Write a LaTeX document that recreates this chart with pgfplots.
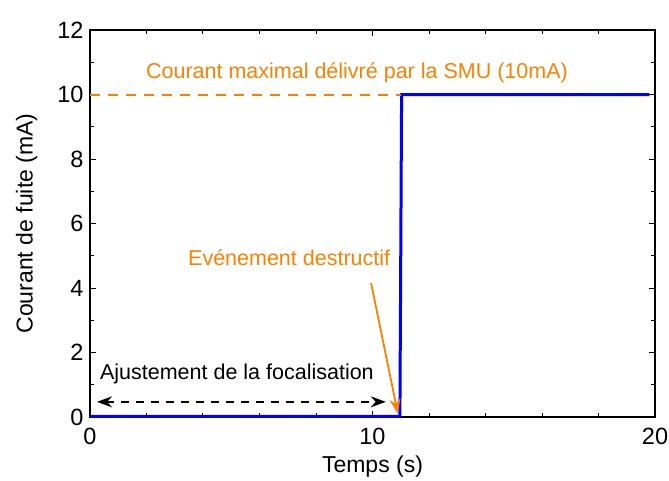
\documentclass[border=0pt]{standalone}
\usepackage{pgfplots}
\pgfplotsset{compat=1.18}
\usetikzlibrary{arrows.meta}
\usepackage{fontspec}
\setmainfont{Liberation Sans}
\definecolor{myorange}{RGB}{255,128,0}
\begin{document}
\begin{tikzpicture}
\useasboundingbox (-90pt,-63pt) rectangle (579pt,417pt);
\begin{axis}[
  at={(0pt,0pt)}, anchor=south west,
  scale only axis, width=565pt, height=387pt,
  xmin=0, xmax=20, ymin=0, ymax=12,
  xtick={0,10,20}, ytick={0,2,...,12},
  minor xtick={2,4,6,8,12,14,16,18},
  minor ytick={1,3,...,11},
  tick align=inside,
  major tick length=6pt, minor tick length=4pt,
  axis line style={line width=1.6pt},
  every tick/.style={black, line width=1pt},
  ticklabel style={font=\fontsize{23.5}{28}\selectfont},
  label style={font=\fontsize{23}{28}\selectfont},
  /pgf/number format/assume math mode=true,
  xlabel={Temps (s)}, ylabel={Courant de fuite (mA)},
  xlabel style={at={(axis description cs:0.5,-0.127)}, anchor=center},
  ylabel style={at={(axis description cs:-0.112,0.5)}, anchor=center},
  xticklabel style={yshift=-8pt},
  yticklabel style={xshift=-3pt},
  clip=false,
]
\addplot[blue, line width=3pt] coordinates {(0,0.02) (10.97,0.02) (11.03,10) (19.8,10)};
\addplot[myorange, line width=2pt, dash pattern=on 10pt off 8pt] coordinates {(0,10) (11,10)};
\node[myorange, font=\fontsize{21.5}{26}\selectfont] at (axis cs:9.45,10.67) {Courant maximal délivré par la SMU (10mA)};
\node[myorange, font=\fontsize{21.5}{26}\selectfont] at (axis cs:7.05,4.95) {Evénement destructif};
\draw[myorange, line width=1.8pt, -{Stealth[length=15pt,width=11pt]}] (axis cs:9.95,4.15) -- (axis cs:10.9,0.1);
\node[black, font=\fontsize{21.5}{26}\selectfont] at (axis cs:5.2,1.35) {Ajustement de la focalisation};
\draw[black, line width=1.8pt, dash pattern=on 8pt off 7pt, {Stealth[length=15pt,width=11pt]}-{Stealth[length=15pt,width=11pt]}] (axis cs:0.25,0.47) -- (axis cs:10.47,0.47);
\end{axis}
\end{tikzpicture}
\end{document}
